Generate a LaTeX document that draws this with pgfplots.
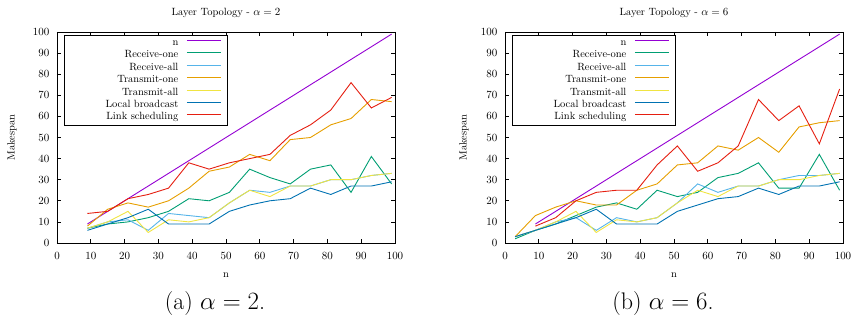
\documentclass[border=0pt]{standalone}
\usepackage{pgfplots}
\usepackage{pgfplotstable}
\pgfplotsset{compat=1.18}

\definecolor{cN}{HTML}{9400D3}
\definecolor{cRO}{HTML}{009E73}
\definecolor{cRA}{HTML}{56B4E9}
\definecolor{cTO}{HTML}{E69F00}
\definecolor{cTA}{HTML}{F0E442}
\definecolor{cLB}{HTML}{0072B2}
\definecolor{cLS}{HTML}{E51E10}

\pgfplotstableread{
x n ro ra to ta lb ls
9 9 7 7 8 7 6 14
15 15 9 10 16 10 9 15
21 21 10 11 19 15 12 21
27 27 12 6 17 5 16 23
33 33 15 14 20 11 9 26
39 39 21 13 26 10 9 38
45 45 20 12 34 12 9 35
51 51 24 19 36 19 15 38
57 57 35 25 42 25 18 40
63 63 31 24 39 22 20 42
69 69 28 27 49 27 21 51
75 75 35 27 50 27 26 56
81 81 37 30 56 30 23 63
87 87 24 30 59 30 27 76
93 93 41 32 68 32 27 64
99 99 28 33 67 33 29 69
}\tabA

\pgfplotstableread{
x n ro ra to ta lb ls
3 nan 2 3 3 3 3 nan
9 9 6 6 13 6 6 8
15 15 9 10 17 10 9 12
21 21 13 12 20 15 12 20
27 27 17 6 18 5 16 24
33 33 19 12 18 11 9 25
39 39 16 10 25 10 9 25
45 45 25 12 28 12 9 37
51 51 22 19 37 19 15 46
57 57 24 28 38 25 18 34
63 63 31 24 46 22 21 38
69 69 33 27 44 27 22 46
75 75 38 27 50 27 26 68
81 81 26 30 43 30 23 58
87 87 26 32 55 30 27 65
93 93 42 32 57 32 27 47
99 99 25 33 58 33 29 73
}\tabB

\newcommand{\lent}[1]{\makebox[108pt][r]{#1}}

\pgfplotsset{
  myax/.style={
    scale only axis, width=338pt, height=211pt,
    xmin=0, xmax=100, ymin=0, ymax=100,
    xtick={0,10,...,100}, ytick={0,10,...,100},
    tick align=inside, major tick length=4pt,
    axis line style={line width=0.9pt},
    every tick/.style={black, line width=0.7pt},
    xticklabel style={yshift=-6pt},
    yticklabel style={xshift=-4pt},
    xlabel={n}, ylabel={Makespan},
    every axis x label/.style={at={(axis description cs:0.5,-0.152)}, anchor=center},
    every axis title/.style={at={(axis description cs:0.5,1.09)}, anchor=center},
    legend cell align=right,
    legend plot pos=right,
    legend style={at={(0,1)}, anchor=north west, xshift=7pt, yshift=-3pt,
      draw=black, line width=0.8pt, inner xsep=4pt, inner ysep=1.5pt,
      nodes={inner xsep=2pt, inner ysep=1.4pt, text height=7.2pt, text depth=2.4pt},
      /tikz/column sep=6pt},
    legend image code/.code={\draw[line width=0.9pt,##1] (0pt,0.25em) -- (34pt,0.25em); \path (36pt,0.25em);},
    every axis plot/.append style={line width=0.9pt},
  },
}

\begin{document}
\fontsize{10.5}{12.6}\selectfont
\begin{tikzpicture}
\begin{axis}[myax, at={(0pt,0pt)}, anchor=south west,
  title={Layer Topology - $\alpha = 2$},
  every axis y label/.style={at={(axis description cs:-0.133,0.5)}, rotate=90, anchor=center}]
\addplot[cN, legend image post style={line width=1.5pt}] table[x=x,y=n] {\tabA};
\addlegendentry{\lent{n}}
\addplot[cRO] table[x=x,y=ro] {\tabA};
\addlegendentry{\lent{Receive-one}}
\addplot[cRA] table[x=x,y=ra] {\tabA};
\addlegendentry{\lent{Receive-all}}
\addplot[cTO, legend image post style={line width=1.5pt}] table[x=x,y=to] {\tabA};
\addlegendentry{\lent{Transmit-one}}
\addplot[cTA] table[x=x,y=ta] {\tabA};
\addlegendentry{\lent{Transmit-all}}
\addplot[cLB] table[x=x,y=lb] {\tabA};
\addlegendentry{\lent{Local broadcast}}
\addplot[cLS, legend image post style={line width=1.5pt}] table[x=x,y=ls] {\tabA};
\addlegendentry{\lent{Link scheduling}}
\end{axis}

\begin{axis}[myax, at={(448pt,0pt)}, anchor=south west,
  title={Layer Topology - $\alpha = 6$},
  every axis y label/.style={at={(axis description cs:-0.121,0.5)}, rotate=90, anchor=center}]
\addplot[cN, legend image post style={line width=1.5pt}] table[x=x,y=n] {\tabB};
\addlegendentry{\lent{n}}
\addplot[cRO] table[x=x,y=ro] {\tabB};
\addlegendentry{\lent{Receive-one}}
\addplot[cRA] table[x=x,y=ra] {\tabB};
\addlegendentry{\lent{Receive-all}}
\addplot[cTO, legend image post style={line width=1.5pt}] table[x=x,y=to] {\tabB};
\addlegendentry{\lent{Transmit-one}}
\addplot[cTA] table[x=x,y=ta] {\tabB};
\addlegendentry{\lent{Transmit-all}}
\addplot[cLB] table[x=x,y=lb] {\tabB};
\addlegendentry{\lent{Local broadcast}}
\addplot[cLS, legend image post style={line width=1.5pt}] table[x=x,y=ls] {\tabB};
\addlegendentry{\lent{Link scheduling}}
\end{axis}

\node[font=\fontsize{24}{28}\selectfont] at (158pt,-61pt) {(a)~$\alpha = 2$.};
\node[font=\fontsize{24}{28}\selectfont] at (606pt,-61pt) {(b)~$\alpha = 6$.};

\pgfresetboundingbox
\useasboundingbox (-57pt,-80pt) rectangle (798pt,243pt);
\end{tikzpicture}
\end{document}
